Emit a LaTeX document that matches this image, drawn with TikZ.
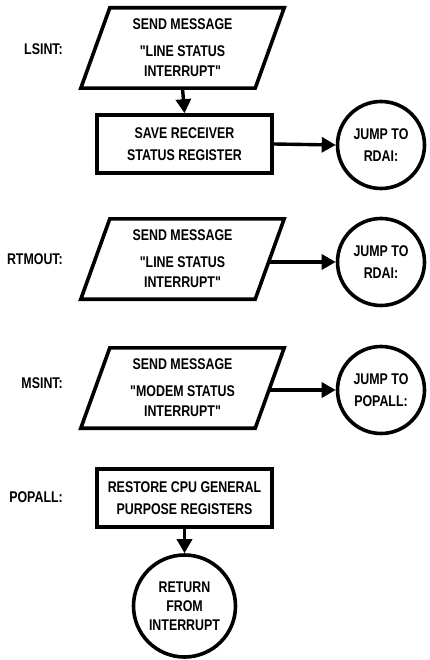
\documentclass[tikz,border=0pt]{standalone}
\usepackage{fontspec}
\setmainfont{Liberation Sans}
\newfontfamily\narrowfont{Liberation Sans}[FakeStretch=0.8]
\usetikzlibrary{arrows.meta}
\tikzset{
  every node/.style={font=\narrowfont\fontsize{15.5}{20}\selectfont\bfseries, align=center, inner sep=0pt},
  para/.style={rectangle, minimum width=174pt, minimum height=80pt},
  shape line/.style={line width=3.6pt, line join=miter},
  box/.style={draw, shape line, rectangle, minimum width=175pt, minimum height=58pt},
  conn/.style={draw, shape line, circle, minimum size=87pt},
  lbl/.style={anchor=east},
  arr/.style={line width=3.4pt, -{Triangle[length=14pt,width=15pt]}}
}
\newcommand{\parashape}[1]{%
  \draw[shape line] ([xshift=14.5pt]#1.north west) -- ([xshift=14.5pt]#1.north east)
      -- ([xshift=-14.5pt]#1.south east) -- ([xshift=-14.5pt]#1.south west) -- cycle;}
\begin{document}
\begin{tikzpicture}[x=1pt,y=-1pt]
\useasboundingbox (0,0) rectangle (429,660);
% block 1
\node[para] (p1) at (182.5,48) {SEND MESSAGE\\[7pt]"LINE STATUS\\INTERRUPT"};
\parashape{p1}
\node[box] (r1) at (184.5,144) {SAVE RECEIVER\\[2pt]STATUS REGISTER};
\node[conn] (c1) at (381,145) {JUMP TO\\[2pt]RDAI:};
\node[lbl] (l1) at (63,49) {LSINT:};
\draw[arr] (p1.south) -- (r1.north);
\draw[arr] (r1.east) -- (c1.west);
% block 2
\node[para] (p2) at (182.5,259) {SEND MESSAGE\\[7pt]"LINE STATUS\\INTERRUPT"};
\parashape{p2}
\node[conn] (c2) at (381,262) {JUMP TO\\[2pt]RDAI:};
\node[lbl] (l2) at (63,259) {RTMOUT:};
\draw[arr] (p2.east |- c2.west) -- (c2.west);
% block 3
\node[para] (p3) at (182.5,388) {SEND MESSAGE\\[7pt]"MODEM STATUS\\INTERRUPT"};
\parashape{p3}
\node[conn] (c3) at (381,390) {JUMP TO\\[2pt]POPALL:};
\node[lbl] (l3) at (63,383) {MSINT:};
\draw[arr] (p3.east |- c3.west) -- (c3.west);
% block 4
\node[box] (r4) at (184.5,498) {RESTORE CPU GENERAL\\[2pt]PURPOSE REGISTERS};
\node[conn, minimum size=102pt] (c4) at (184.5,606) {RETURN\\[-1pt]FROM\\[-1pt]INTERRUPT};
\node[lbl] (l4) at (63,497) {POPALL:};
\draw[arr] (r4.south) -- (c4.north);
\end{tikzpicture}
\end{document}
